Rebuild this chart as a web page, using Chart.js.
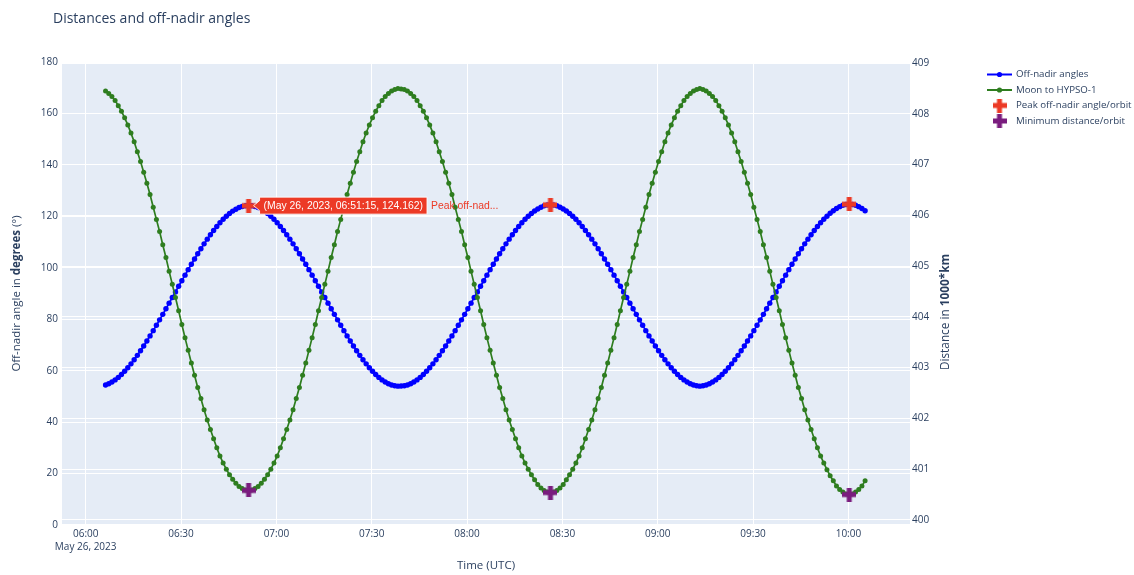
<!DOCTYPE html>
<html><head><meta charset="utf-8">
<script src="https://cdn.jsdelivr.net/npm/chart.js@4.4.0/dist/chart.umd.min.js"></script>
<style>html,body{margin:0;padding:0;background:#fff;}canvas{display:block;}</style>
</head><body>
<canvas id="c" width="1134" height="575"></canvas>
<script>
const dateLabel = "May 26, 2023";
const times = [
"06:06:15","06:07:15","06:08:15","06:09:15","06:10:15","06:11:15","06:12:15","06:13:15","06:14:15","06:15:15","06:16:15","06:17:15","06:18:15","06:19:15","06:20:15","06:21:15","06:22:15","06:23:15","06:24:15","06:25:15","06:26:15","06:27:15","06:28:15","06:29:15","06:30:15","06:31:15","06:32:15","06:33:15","06:34:15","06:35:15","06:36:15","06:37:15","06:38:15","06:39:15","06:40:15","06:41:15","06:42:15","06:43:15","06:44:15","06:45:15","06:46:15","06:47:15","06:48:15","06:49:15","06:50:15","06:51:15","06:52:15","06:53:15","06:54:15","06:55:15","06:56:15","06:57:15","06:58:15","06:59:15",
"07:00:15","07:01:15","07:02:15","07:03:15","07:04:15","07:05:15","07:06:15","07:07:15","07:08:15","07:09:15","07:10:15","07:11:15","07:12:15","07:13:15","07:14:15","07:15:15","07:16:15","07:17:15","07:18:15","07:19:15","07:20:15","07:21:15","07:22:15","07:23:15","07:24:15","07:25:15","07:26:15","07:27:15","07:28:15","07:29:15","07:30:15","07:31:15","07:32:15","07:33:15","07:34:15","07:35:15","07:36:15","07:37:15","07:38:15","07:39:15","07:40:15","07:41:15","07:42:15","07:43:15","07:44:15","07:45:15","07:46:15","07:47:15","07:48:15","07:49:15","07:50:15","07:51:15","07:52:15","07:53:15","07:54:15","07:55:15","07:56:15","07:57:15","07:58:15","07:59:15",
"08:00:15","08:01:15","08:02:15","08:03:15","08:04:15","08:05:15","08:06:15","08:07:15","08:08:15","08:09:15","08:10:15","08:11:15","08:12:15","08:13:15","08:14:15","08:15:15","08:16:15","08:17:15","08:18:15","08:19:15","08:20:15","08:21:15","08:22:15","08:23:15","08:24:15","08:25:15","08:26:15","08:27:15","08:28:15","08:29:15","08:30:15","08:31:15","08:32:15","08:33:15","08:34:15","08:35:15","08:36:15","08:37:15","08:38:15","08:39:15","08:40:15","08:41:15","08:42:15","08:43:15","08:44:15","08:45:15","08:46:15","08:47:15","08:48:15","08:49:15","08:50:15","08:51:15","08:52:15","08:53:15","08:54:15","08:55:15","08:56:15","08:57:15","08:58:15","08:59:15",
"09:00:15","09:01:15","09:02:15","09:03:15","09:04:15","09:05:15","09:06:15","09:07:15","09:08:15","09:09:15","09:10:15","09:11:15","09:12:15","09:13:15","09:14:15","09:15:15","09:16:15","09:17:15","09:18:15","09:19:15","09:20:15","09:21:15","09:22:15","09:23:15","09:24:15","09:25:15","09:26:15","09:27:15","09:28:15","09:29:15","09:30:15","09:31:15","09:32:15","09:33:15","09:34:15","09:35:15","09:36:15","09:37:15","09:38:15","09:39:15","09:40:15","09:41:15","09:42:15","09:43:15","09:44:15","09:45:15","09:46:15","09:47:15","09:48:15","09:49:15","09:50:15","09:51:15","09:52:15","09:53:15","09:54:15","09:55:15","09:56:15","09:57:15","09:58:15","09:59:15",
"10:00:15","10:01:15","10:02:15","10:03:15","10:04:15","10:05:15"];
const offNadir = [
54.44,54.93,55.58,56.41,57.38,58.50,59.76,61.14,62.65,64.25,65.95,67.72,69.60,71.53,73.51,75.55,77.63,79.75,81.90,84.06,
86.24,88.43,90.62,92.81,94.98,97.14,99.27,101.37,103.42,105.44,107.40,109.30,111.12,112.86,114.52,116.07,117.52,118.85,120.06,121.12,
122.04,122.78,123.41,123.84,124.11,124.162,
124.11,123.84,123.41,122.78,122.04,121.12,120.06,118.85,117.52,116.07,114.52,112.86,111.12,109.30,107.40,105.44,103.42,101.37,99.27,97.14,
94.98,92.81,90.62,88.43,86.24,84.06,81.90,79.75,77.63,75.55,73.51,71.53,69.60,67.72,65.95,64.25,62.65,61.14,59.76,58.50,
57.38,56.41,55.58,54.93,54.44,54.13,53.98,
54.01,54.13,54.44,54.93,55.58,56.41,57.38,58.50,59.76,61.14,62.65,64.25,65.95,67.72,69.60,71.53,73.51,75.55,77.63,79.75,
81.90,84.06,86.24,88.43,90.62,92.81,94.98,97.14,99.27,101.37,103.42,105.44,107.40,109.30,111.12,112.86,114.52,116.07,117.52,118.85,
120.06,121.12,122.09,122.88,123.56,124.09,124.41,124.46,
124.41,124.09,123.56,122.88,122.09,121.12,120.06,118.85,117.52,116.07,114.52,112.86,111.12,109.30,107.40,105.44,103.42,101.37,99.27,97.14,
94.98,92.81,90.62,88.43,86.24,84.06,81.90,79.75,77.63,75.55,73.51,71.53,69.60,67.72,65.95,64.25,62.65,61.14,59.76,58.50,
57.38,56.41,55.58,54.93,54.44,54.13,53.98,
54.13,54.44,54.93,55.58,56.41,57.38,58.50,59.76,61.14,62.65,64.25,65.95,67.72,69.60,71.53,73.51,75.55,77.63,79.75,81.90,
84.06,86.24,88.43,90.62,92.81,94.98,97.14,99.27,101.37,103.42,105.44,107.40,109.30,111.12,112.86,114.52,116.07,117.52,118.85,120.06,
121.17,122.19,123.03,123.76,124.29,124.61,124.70,
124.61,124.29,123.76,123.03,122.19];
const moonDist = [
408.45,408.40,408.34,408.26,408.16,408.05,407.92,407.78,407.62,407.45,407.25,407.06,406.85,406.63,406.41,406.16,405.92,405.68,405.42,405.17,
404.90,404.64,404.38,404.12,403.85,403.59,403.34,403.09,402.85,402.61,402.39,402.17,401.97,401.78,401.60,401.42,401.26,401.12,401.00,400.89,
400.80,400.72,400.66,400.62,400.59,400.58,
400.59,400.62,400.66,400.72,400.80,400.89,401.00,401.12,401.26,401.42,401.60,401.78,401.97,402.17,402.39,402.61,402.85,403.09,403.34,403.59,
403.85,404.12,404.38,404.64,404.90,405.17,405.42,405.68,405.92,406.16,406.41,406.63,406.85,407.06,407.25,407.45,407.62,407.78,407.92,408.05,
408.16,408.26,408.34,408.40,408.45,408.48,408.50,
408.49,408.48,408.45,408.40,408.34,408.26,408.16,408.05,407.92,407.78,407.62,407.45,407.25,407.06,406.85,406.63,406.41,406.16,405.92,405.68,
405.42,405.17,404.90,404.64,404.38,404.12,403.85,403.59,403.34,403.09,402.85,402.61,402.39,402.17,401.97,401.78,401.60,401.42,401.26,401.12,
401.00,400.89,400.79,400.70,400.63,400.58,400.55,400.54,
400.55,400.58,400.63,400.70,400.79,400.89,401.00,401.12,401.26,401.42,401.60,401.78,401.97,402.17,402.39,402.61,402.85,403.09,403.34,403.59,
403.85,404.12,404.38,404.64,404.90,405.17,405.42,405.68,405.92,406.16,406.41,406.63,406.85,407.06,407.25,407.45,407.62,407.78,407.92,408.05,
408.16,408.26,408.34,408.40,408.45,408.48,408.50,
408.48,408.45,408.40,408.34,408.26,408.16,408.05,407.92,407.78,407.62,407.45,407.25,407.06,406.85,406.63,406.41,406.16,405.92,405.68,405.42,
405.17,404.90,404.64,404.38,404.12,403.85,403.59,403.34,403.09,402.85,402.61,402.39,402.17,401.97,401.78,401.60,401.42,401.26,401.12,400.99,
400.87,400.77,400.67,400.60,400.55,400.51,400.50,
400.51,400.55,400.60,400.67,400.77];
const peakTimes = ["06:51:15","08:26:15","10:00:15"];
const peakAngles = [124.162,124.46,124.70];
const minDistTimes = ["06:51:15","08:26:15","10:00:15"];
const minDistances = [400.58,400.54,400.50];
const xTickLabels = ["06:00","06:30","07:00","07:30","08:00","08:30","09:00","09:30","10:00"];
const yTickValues = [0,20,40,60,80,100,120,140,160,180];
const y2TickValues = [400,401,402,403,404,405,406,407,408,409];

const FONT = "'Open Sans', sans-serif";
const TXT = '#2a3f5f';
const BLUE = '#0000ff', GREEN = '#2e7d1f', RED = '#ec3a26', PURPLE = '#7a1c7e';

function toMin(s){ const p = s.split(':').map(Number); return p[0]*60 + p[1] + (p[2]||0)/60 - 360; }
function makeCross(color, size, arm){
  const c = document.createElement('canvas'); c.width = size; c.height = size;
  const g = c.getContext('2d'); g.fillStyle = color;
  const o = (size-arm)/2; g.fillRect(o,0,arm,size); g.fillRect(0,o,size,arm);
  return c;
}
const redCross = makeCross(RED, 14, 5);
const purpleCross = makeCross(PURPLE, 14, 5);

function richText(ctx, parts, cx, cy, rot, size){
  ctx.save(); ctx.translate(cx, cy); ctx.rotate(rot);
  let total = 0;
  parts.forEach(p => { ctx.font = (p.b?'bold ':'') + size + 'px ' + FONT; p.w = ctx.measureText(p.t).width; total += p.w; });
  let x = -total/2; ctx.textBaseline = 'middle'; ctx.fillStyle = TXT; ctx.textAlign = 'left';
  parts.forEach(p => { ctx.font = (p.b?'bold ':'') + size + 'px ' + FONT; ctx.fillText(p.t, x, 0); x += p.w; });
  ctx.restore();
}

const deco = {
  id: 'deco',
  beforeDraw(chart){
    const {ctx, chartArea: a} = chart;
    ctx.save();
    ctx.fillStyle = '#fff'; ctx.fillRect(0,0,chart.width,chart.height);
    ctx.fillStyle = '#E5ECF6'; ctx.fillRect(a.left, a.top, a.right-a.left, a.bottom-a.top);
    ctx.restore();
  },
  afterDraw(chart){
    const {ctx, chartArea: a} = chart;
    ctx.save();
    ctx.font = '14px ' + FONT; ctx.fillStyle = TXT; ctx.textBaseline = 'alphabetic'; ctx.textAlign = 'left';
    ctx.fillText('Distances and off-nadir angles', 53, 22.5);
    ctx.font = '11.5px ' + FONT; ctx.textAlign = 'center'; ctx.textBaseline = 'middle';
    ctx.fillText('Time (UTC)', (a.left+a.right)/2, 566);
    ctx.restore();
    richText(ctx, [{t:'Off-nadir angle in '},{t:'degrees',b:true},{t:' (°)'}], 17, (a.top+a.bottom)/2, -Math.PI/2, 11.5);
    richText(ctx, [{t:'Distance in '},{t:'1000*km',b:true}], 946, 312, -Math.PI/2, 11.8);
    ctx.save();
    const lx = 987, rows = [74.5, 90, 105.5, 121];
    const ds = chart.data.datasets;
    const items = [ds[3], ds[2], ds[0], ds[1]];
    items.forEach((d, i) => {
      const y = rows[i];
      if (i < 2) {
        ctx.strokeStyle = d.borderColor; ctx.lineWidth = 2;
        ctx.beginPath(); ctx.moveTo(lx, y); ctx.lineTo(lx+25, y); ctx.stroke();
        ctx.fillStyle = d.borderColor; ctx.beginPath(); ctx.arc(lx+12.5, y, 2.6, 0, Math.PI*2); ctx.fill();
      } else {
        ctx.drawImage(d.pointStyle, lx+12.5-7, y-7);
      }
      ctx.font = '9.7px ' + FONT; ctx.fillStyle = TXT; ctx.textBaseline = 'middle'; ctx.textAlign = 'left';
      ctx.fillText(d.label, lx+29, y);
    });
    ctx.restore();
    ctx.save();
    const p = chart.getDatasetMeta(0).data[0];
    const px = p.x, py = p.y;
    const label = '(' + dateLabel + ', ' + peakTimes[0] + ', ' + peakAngles[0] + ')';
    ctx.font = '10.4px "Liberation Sans", Arial, sans-serif';
    const tw = ctx.measureText(label).width;
    const bx = px + 11, bh = 17, by = py - bh/2, bw = tw + 8;
    ctx.fillStyle = RED; ctx.strokeStyle = 'rgba(255,255,255,0.85)'; ctx.lineWidth = 1;
    ctx.beginPath();
    ctx.moveTo(px+5, py); ctx.lineTo(bx, py-5); ctx.lineTo(bx, by); ctx.lineTo(bx+bw, by);
    ctx.lineTo(bx+bw, by+bh); ctx.lineTo(bx, by+bh); ctx.lineTo(bx, py+5); ctx.closePath();
    ctx.fill(); ctx.stroke();
    ctx.fillStyle = '#fff'; ctx.textBaseline = 'middle'; ctx.textAlign = 'left';
    ctx.fillText(label, bx+4, py+0.5);
    ctx.fillStyle = RED;
    ctx.fillText('Peak off-nad...', bx+bw+4, py+0.5);
    ctx.restore();
  }
};

new Chart(document.getElementById('c'), {
  type: 'line',
  data: { datasets: [
    { label: 'Peak off-nadir angle/orbit', data: peakTimes.map((t,i)=>({x: toMin(t), y: peakAngles[i]})),
      yAxisID: 'y', showLine: false, pointStyle: redCross, pointRadius: 7, pointHoverRadius: 7, borderColor: RED, backgroundColor: RED, order: 0 },
    { label: 'Minimum distance/orbit', data: minDistTimes.map((t,i)=>({x: toMin(t), y: minDistances[i]})),
      yAxisID: 'y2', showLine: false, pointStyle: purpleCross, pointRadius: 7, pointHoverRadius: 7, borderColor: PURPLE, backgroundColor: PURPLE, order: 0 },
    { label: 'Moon to HYPSO-1', data: times.map((t,i)=>({x: toMin(t), y: moonDist[i]})),
      yAxisID: 'y2', borderColor: GREEN, backgroundColor: GREEN, borderWidth: 1.7, pointRadius: 2.5, pointHoverRadius: 2.5,
      pointBorderWidth: 0, pointBackgroundColor: GREEN, tension: 0, order: 1 },
    { label: 'Off-nadir angles', data: times.map((t,i)=>({x: toMin(t), y: offNadir[i]})),
      yAxisID: 'y', borderColor: BLUE, backgroundColor: BLUE, borderWidth: 1.7, pointRadius: 2.7, pointHoverRadius: 2.7,
      pointBorderWidth: 0, pointBackgroundColor: BLUE, tension: 0, order: 2 }
  ]},
  options: {
    responsive: false, animation: false, devicePixelRatio: 1,
    layout: { padding: { left: 0, right: 184, top: 62, bottom: 0 } },
    plugins: { legend: { display: false }, tooltip: { enabled: false }, title: { display: false } },
    events: [],
    scales: {
      x: { type: 'linear', min: -7.457, max: 259.38,
        afterBuildTicks: s => { s.ticks = xTickLabels.map(l => ({ value: toMin(l + ':00') })); },
        ticks: { autoSkip: false, maxRotation: 0, padding: 3, color: TXT, font: { size: 10, family: FONT, lineHeight: 1.3 },
          callback: (v, i) => i === 0 ? [xTickLabels[0], dateLabel] : xTickLabels[i] },
        grid: { color: '#ffffff', lineWidth: 1, drawTicks: false }, border: { display: false },
        afterFit: s => { s.height = 50; } },
      y: { position: 'left', min: 0, max: 180,
        afterBuildTicks: s => { s.ticks = yTickValues.map(v => ({ value: v })); },
        ticks: { padding: 4, color: TXT, font: { size: 10, family: FONT } },
        grid: { color: '#ffffff', lineWidth: c => (c.tick && c.tick.value === 0) ? 2 : 1, drawTicks: false }, border: { display: false },
        afterFit: s => { s.width = 62; } },
      y2: { position: 'right', min: 399.9, max: 409.02,
        afterBuildTicks: s => { s.ticks = y2TickValues.map(v => ({ value: v })); },
        ticks: { padding: 2, color: TXT, font: { size: 10, family: FONT }, callback: v => String(v) },
        grid: { color: '#ffffff', lineWidth: 1, drawTicks: false, drawOnChartArea: true }, border: { display: false },
        afterFit: s => { s.width = 40; } }
    }
  },
  plugins: [deco]
});
</script>
</body></html>
